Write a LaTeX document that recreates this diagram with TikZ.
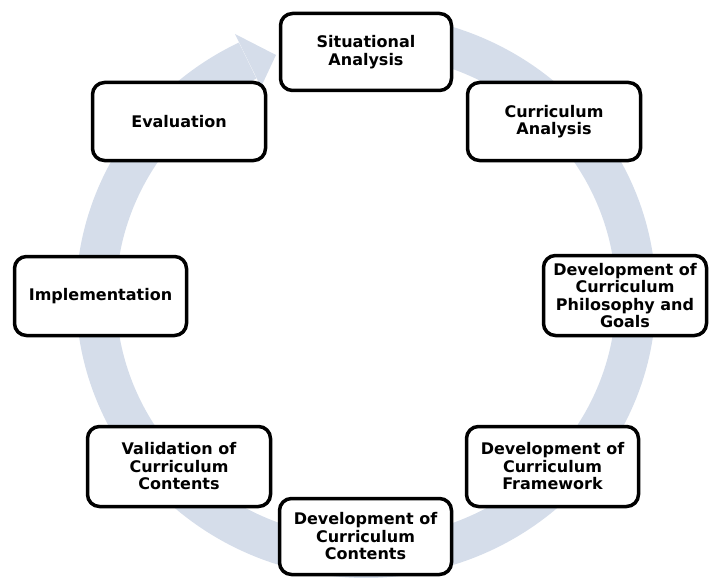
\documentclass[tikz,border=0pt]{standalone}
\usepackage{fontspec}
\setmainfont{DejaVu Sans}
\definecolor{bandcol}{HTML}{D5DDEA}
\begin{document}
\begin{tikzpicture}[x=1pt,y=-1pt,
  band/.style={draw=bandcol, line width=40pt, line cap=butt},
  stagebox/.style={draw=black, line width=3.5pt, rounded corners=12pt, fill=white,
    align=center, inner sep=2pt,
    font=\fontsize{16}{17.5}\selectfont\bfseries}]
\useasboundingbox (0,0) rectangle (710,578);
% circular arrow
\draw[band] plot[domain=80:-244, samples=160, smooth] ({366+270*cos(\x)},{296-262*sin(\x)});
\fill[bandcol] (235,34) -- (276,55) -- (261,87) -- cycle;
% stages
\node[stagebox, minimum width=171pt, minimum height=77pt] (sit) at (366,52) {Situational\\Analysis};
\node[stagebox, minimum width=173pt, minimum height=78pt] (cur) at (554,121.5) {Curriculum\\Analysis};
\node[stagebox, minimum width=163pt, minimum height=80pt] (phil) at (625,295.5) {Development of\\Curriculum\\Philosophy and\\Goals};
\node[stagebox, minimum width=172pt, minimum height=80pt] (frame) at (552.5,466.5) {Development of\\Curriculum\\Framework};
\node[stagebox, minimum width=172pt, minimum height=76pt] (cont) at (365.5,536.5) {Development of\\Curriculum\\Contents};
\node[stagebox, minimum width=183pt, minimum height=80pt] (valid) at (179,466.5) {Validation of\\Curriculum\\Contents};
\node[stagebox, minimum width=172pt, minimum height=79pt] (impl) at (100.5,296) {Implementation};
\node[stagebox, minimum width=173pt, minimum height=78pt] (eval) at (179,121.5) {Evaluation};
\end{tikzpicture}
\end{document}
